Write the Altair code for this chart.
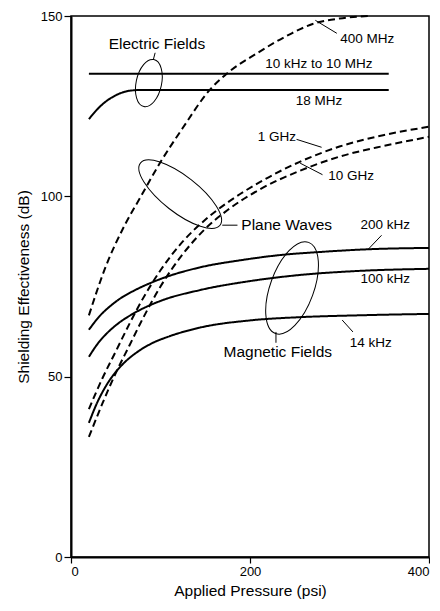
import altair as alt
import pandas as pd

# ---- curve data (Applied pressure psi, shielding effectiveness dB) ----
e_broad_x = [20, 355]
e_broad_y = [134, 134]

e_18mhz_x = [20, 30, 40, 50, 60, 70, 80, 355]
e_18mhz_y = [121.4, 124.3, 126.5, 128.0, 129.0, 129.4, 129.5, 129.5]

pw_400mhz_x = [20, 38, 60, 77, 100, 125, 155, 174, 208, 245, 270, 300, 334]
pw_400mhz_y = [67, 80, 92, 99.5, 109.5, 119, 129.5, 134, 139.7, 145, 147.8, 149.3, 150]

pw_1ghz_x = [20, 35, 50, 65, 80, 100, 125, 150, 175, 210, 255, 300, 350, 400]
pw_1ghz_y = [41, 49.5, 57, 64.5, 71.5, 79.5, 87.5, 93.5, 98.3, 103.8, 109.5, 113.8, 117, 119.3]

pw_10ghz_x = [20, 35, 50, 65, 80, 100, 125, 150, 175, 210, 255, 300, 350, 400]
pw_10ghz_y = [33.3, 42.5, 51, 58.5, 66, 75, 84, 91, 96.2, 101.8, 107, 111, 114, 116.5]

m_200khz_x = [20, 32, 44, 57, 70, 96, 144, 190, 233, 280, 330, 400]
m_200khz_y = [63, 66.8, 69.6, 72, 73.8, 76.7, 80.3, 82.3, 83.7, 84.6, 85.3, 85.7]

m_100khz_x = [20, 30, 40, 54, 69, 100, 144, 200, 256, 320, 400]
m_100khz_y = [55.5, 59.2, 62, 65, 67.4, 71, 74, 76.5, 78.2, 79.3, 79.9]

m_14khz_x = [20, 30, 40, 50, 60, 75, 90, 110, 144, 200, 256, 320, 400]
m_14khz_y = [37.2, 43.2, 47.8, 51.3, 54, 57, 59.2, 61.2, 63.6, 65.6, 66.5, 67, 67.4]

series = [
    ("E 10kHz-10MHz", "solid", e_broad_x, e_broad_y),
    ("E 18MHz", "solid", e_18mhz_x, e_18mhz_y),
    ("PW 400MHz", "dashed", pw_400mhz_x, pw_400mhz_y),
    ("PW 1GHz", "dashed", pw_1ghz_x, pw_1ghz_y),
    ("PW 10GHz", "dashed", pw_10ghz_x, pw_10ghz_y),
    ("M 200kHz", "solid", m_200khz_x, m_200khz_y),
    ("M 100kHz", "solid", m_100khz_x, m_100khz_y),
    ("M 14kHz", "solid", m_14khz_x, m_14khz_y),
]
rows = []
for name, kind, xs, ys in series:
    for i, (xv, yv) in enumerate(zip(xs, ys)):
        rows.append({"series": name, "kind": kind, "p": xv, "se": yv, "order": i})
curves = pd.DataFrame(rows)

# ---- annotation labels ----
label_text = ["Electric Fields", "10 kHz to 10 MHz", "18 MHz", "400 MHz", "1 GHz",
              "10 GHz", "Plane Waves", "200 kHz", "100 kHz", "14 kHz", "Magnetic Fields"]
label_x = [96, 277, 277, 331, 230, 313, 241, 351, 351, 335, 231]
label_y = [142.2, 136.8, 126.4, 143.6, 116.4, 105.6, 92, 92, 77, 59.2, 56.8]
label_size = [15.5, 13.5, 13.5, 13.5, 13.5, 13.5, 15.5, 13.5, 13.5, 13.5, 15.5]
labels = pd.DataFrame({"t": label_text, "x": label_x, "y": label_y, "s": label_size})

# ---- leader lines ----
lead_x1 = [94, 273, 252, 256, 169, 332, 303, 229]
lead_y1 = [139.8, 148.8, 115.8, 109.2, 92, 85.3, 65.7, 62.4]
lead_x2 = [92, 297, 280, 281, 186, 347, 315, 229]
lead_y2 = [137.9, 145.2, 113.6, 106.0, 92, 89.2, 62.4, 59.4]
leaders = pd.DataFrame({"x": lead_x1, "y": lead_y1, "x2": lead_x2, "y2": lead_y2})

# ---- ellipses (center, long-axis length px, axis ratio, rotation) ----
ell_x = [87, 122, 247]
ell_y = [131.4, 100.6, 74.6]
ell_len = [48, 101, 97]
ell_ratio = [0.53, 0.36, 0.45]
ell_angle = [102, 38, 110]


def ellipse_path(r):
    k = 0.5523
    return (f"M 1 0 C 1 {k*r:.4f} {k:.4f} {r:.4f} 0 {r:.4f} "
            f"C {-k:.4f} {r:.4f} -1 {k*r:.4f} -1 0 "
            f"C -1 {-k*r:.4f} {-k:.4f} {-r:.4f} 0 {-r:.4f} "
            f"C {k:.4f} {-r:.4f} 1 {-k*r:.4f} 1 0 Z")


ellipses = pd.DataFrame({
    "x": ell_x, "y": ell_y,
    "shape": [ellipse_path(r) for r in ell_ratio],
    "size": [L * L for L in ell_len],
    "angle": ell_angle,
})

FONT = "Liberation Sans"
xscale = alt.Scale(domain=[0, 400], nice=False, zero=False)
yscale = alt.Scale(domain=[0, 150], nice=False, zero=False)

lines = alt.Chart(curves).mark_line(color="black", strokeWidth=2, interpolate="monotone").encode(
    x=alt.X("p:Q", scale=xscale,
            axis=alt.Axis(values=[0, 200, 400], title="Applied Pressure (psi)")),
    y=alt.Y("se:Q", scale=yscale,
            axis=alt.Axis(values=[0, 50, 100, 150], title="Shielding Effectiveness (dB)")),
    detail="series:N",
    order="order:Q",
    strokeDash=alt.StrokeDash("kind:N", scale=alt.Scale(domain=["solid", "dashed"],
                                                         range=[[1, 0], [7, 4]]), legend=None),
)

text = alt.Chart(labels).mark_text(font=FONT, color="black", baseline="middle", align="center").encode(
    x=alt.X("x:Q", scale=xscale),
    y=alt.Y("y:Q", scale=yscale),
    text="t:N",
    size=alt.Size("s:Q", scale=None, legend=None),
)

rules = alt.Chart(leaders).mark_rule(color="black", strokeWidth=1).encode(
    x=alt.X("x:Q", scale=xscale),
    y=alt.Y("y:Q", scale=yscale),
    x2="x2:Q",
    y2="y2:Q",
)

ovals = alt.Chart(ellipses).mark_point(filled=False, color="black", strokeWidth=1, opacity=1).encode(
    x=alt.X("x:Q", scale=xscale),
    y=alt.Y("y:Q", scale=yscale),
    shape=alt.Shape("shape:N", scale=None, legend=None),
    size=alt.Size("size:Q", scale=None, legend=None),
    angle=alt.Angle("angle:Q", scale=None),
)

chart = alt.layer(lines, rules, ovals, text).properties(
    width=358, height=541,
    autosize=alt.AutoSizeParams(type="none"),
    padding={"left": 63, "top": 8, "right": 1, "bottom": 45},
    background="white",
).configure_view(
    stroke="black", strokeWidth=1.5,
).configure_axis(
    grid=False,
    domainColor="black", domainWidth=2,
    tickColor="black", tickWidth=1.2,
    labelFont=FONT, labelFontSize=13, labelColor="black",
    titleFont=FONT, titleFontSize=15.5, titleColor="black", titleFontWeight="normal",
).configure_axisY(
    tickSize=7, labelPadding=2, titlePadding=9,
).configure_axisX(
    tickSize=6, labelPadding=2, titlePadding=5,
)

chart.save("out.html", embed_options={"renderer": "svg", "actions": False})
